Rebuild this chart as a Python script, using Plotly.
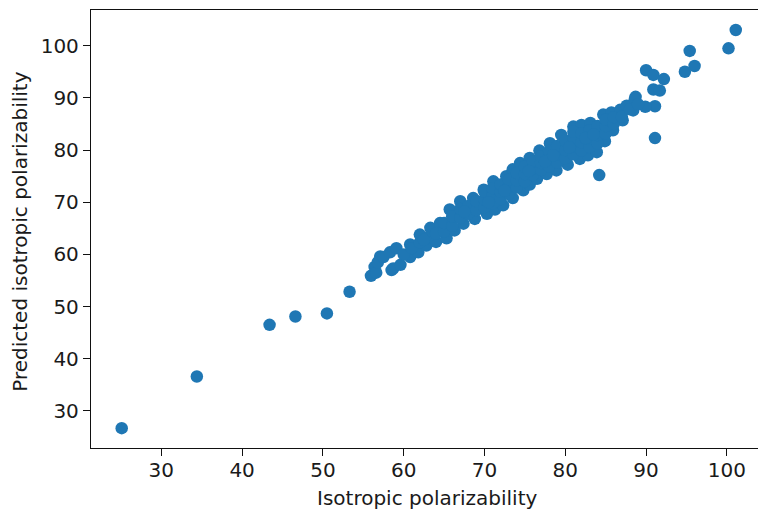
import plotly.graph_objects as go

# Isotropic polarizability (x) vs predicted (y)
iso = [
    # isolated low points
    25.1, 34.4, 43.4, 46.6, 50.5, 53.3, 55.95, 56.4, 57.1,
    # isolated high / off-band points
    101.1, 100.2, 95.4, 96.0, 94.8, 90.0, 90.9, 92.2, 90.9, 91.7, 91.1, 91.1, 84.2, 88.7, 89.9,
    # band lower edge
    56.6, 58.5, 58.7, 59.6, 60.8, 61.8, 62.8, 64.0, 65.3, 66.3, 67.4, 68.8, 70.3, 71.3, 72.3,
    73.5, 74.8, 75.6, 76.5, 77.7, 78.9, 80.3, 81.8, 82.8, 83.9, 84.9, 85.9, 87.1, 88.4,
    # band upper edge
    56.8, 57.5, 58.3, 59.1, 60.8, 62.0, 63.3, 64.5, 65.7, 67.0, 68.6, 69.9, 71.1, 72.7, 73.5,
    74.4, 75.6, 76.8, 78.1, 79.5, 81.0, 82.0, 83.1, 84.7, 85.7, 86.8, 87.6, 88.6,
    # band interior
    60.0, 61.0, 62.0, 63.0, 64.0, 65.0, 65.0, 66.0, 66.0, 67.0, 67.0, 68.0, 68.0, 69.0, 69.0,
    70.0, 70.0, 70.0, 71.0, 71.0, 71.0, 72.0, 72.0, 72.0, 73.0, 73.0, 73.0, 74.0, 74.0, 74.0,
    75.0, 75.0, 75.0, 76.0, 76.0, 76.0, 77.0, 77.0, 77.0, 78.0, 78.0, 78.0, 79.0, 79.0, 79.0,
    80.0, 80.0, 80.0, 81.0, 81.0, 81.0, 81.0, 82.0, 82.0, 82.0, 83.0, 83.0, 83.0, 84.0, 84.0,
    84.0, 85.0, 85.0, 85.0, 86.0, 86.0, 87.0, 88.0, 89.0,
    70.5, 75.5, 80.5, 77.5, 72.5, 82.5, 67.5, 62.5, 83.5, 78.5,
]
pred = [
    26.7, 36.6, 46.5, 48.1, 48.7, 52.85, 55.9, 57.6, 59.6,
    103.0, 99.5, 99.0, 96.1, 95.0, 95.3, 94.4, 93.6, 91.6, 91.4, 88.4, 82.3, 75.2, 90.2, 88.3,
    56.5, 57.0, 57.3, 58.0, 59.5, 60.4, 61.7, 62.4, 63.1, 64.6, 65.9, 66.8, 67.8, 68.6, 69.4,
    70.8, 72.3, 73.4, 74.5, 75.4, 76.1, 77.2, 78.3, 79.0, 79.6, 81.7, 83.8, 85.7, 87.6,
    58.5, 59.5, 60.4, 61.2, 61.9, 63.8, 65.1, 66.0, 68.6, 70.2, 70.8, 72.4, 74.0, 75.0, 76.3,
    77.5, 78.5, 79.9, 81.3, 82.9, 84.5, 84.8, 85.2, 86.8, 87.2, 87.7, 88.5, 89.7,
    60.0, 61.2, 62.3, 63.3, 64.0, 64.4, 66.0, 65.5, 67.3, 67.0, 68.7, 67.8, 69.3, 68.5, 70.2,
    69.0, 70.5, 72.0, 69.8, 71.3, 72.7, 70.6, 72.0, 73.4, 71.6, 73.0, 74.3, 72.8, 74.2, 75.6,
    74.0, 75.4, 76.8, 75.2, 76.5, 77.8, 76.2, 77.5, 78.8, 76.9, 78.3, 79.8, 77.6, 79.2, 80.8,
    78.4, 80.0, 81.8, 79.2, 80.8, 82.4, 83.5, 79.9, 81.5, 83.2, 80.6, 82.2, 83.8, 81.3, 82.9,
    84.6, 83.2, 84.6, 85.8, 85.0, 86.3, 86.4, 87.8, 88.8,
    70.0, 76.0, 80.5, 77.8, 72.2, 82.3, 68.2, 62.8, 83.0, 79.0,
]

tick_vals = [30, 40, 50, 60, 70, 80, 90, 100]
tick_text = ["30", "40", "50", "60", "70", "80", "90", "100"]
x_label = "Isotropic polarizability"
y_label = "Predicted isotropic polarizability"

FONT = "DejaVu Sans"
TXT = "#1a1a1a"

fig = go.Figure(
    go.Scatter(
        x=iso, y=pred, mode="markers",
        marker=dict(color="#1f77b4", size=12.5, line=dict(width=0)),
        hoverinfo="skip",
    )
)

axis_common = dict(
    automargin=False,
    showgrid=False, zeroline=False, showline=True, linecolor="#111", linewidth=1.3,
    ticks="outside", ticklen=7, tickwidth=1.3, tickcolor="#111",
    tickvals=tick_vals, ticktext=tick_text,
    tickfont=dict(family=FONT, size=20, color=TXT),
)

# The reference is cropped on the right, so the right spine is not shown.
fig.update_layout(
    width=758, height=509,
    margin=dict(l=91, r=0, t=10, b=61, autoexpand=False),
    paper_bgcolor="white", plot_bgcolor="white",
    showlegend=False,
    xaxis=dict(range=[21.3, 103.85], mirror=True, ticklabelstandoff=-3, **axis_common),
    yaxis=dict(range=[22.9, 106.84], mirror=False, **axis_common),
    annotations=[
        dict(text=x_label, xref="x", yref="paper", x=63.0, y=0, xanchor="center",
             yanchor="middle", yshift=-50, showarrow=False,
             font=dict(family=FONT, size=20, color=TXT)),
        dict(text=y_label, xref="paper", yref="paper", x=0, y=0.493, xanchor="center",
             yanchor="middle", xshift=-71.3, textangle=-90, showarrow=False,
             font=dict(family=FONT, size=20, color=TXT)),
    ],
)

# remove the default 8px page margin so the figure fills the window exactly
fig.write_html(
    "out.html",
    config={"displayModeBar": False},
    post_script="document.body.style.margin='0';document.body.style.overflow='hidden';"
                "document.documentElement.style.overflow='hidden';",
)
